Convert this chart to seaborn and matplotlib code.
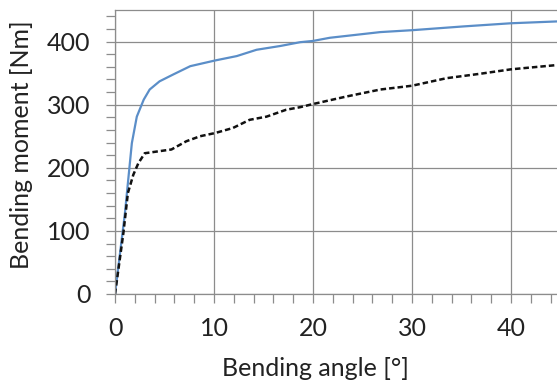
import matplotlib
matplotlib.use("Agg")
import matplotlib.pyplot as plt
import seaborn as sns
import pandas as pd
from matplotlib.ticker import MultipleLocator

# Data
angle_a = [0, 1.0, 1.7, 2.2, 2.9, 3.5, 4.5, 5.9, 7.6, 10.1, 12.3, 14.3, 16.7, 18.7, 20.0, 21.7, 26.8, 30.0, 35.2, 40.0, 44.8]
moment_a = [0, 128, 239, 281, 308, 324, 337, 348, 361, 370, 377, 387, 393, 399, 401, 406, 415, 418, 424, 429, 432]

angle_b = [0, 0.84, 1.3, 1.85, 2.35, 3.0, 3.9, 5.7, 7.2, 8.6, 10.1, 11.9, 13.6, 15.3, 17.3, 18.7, 20.0, 23.4, 26.8, 30.0, 33.5, 36.9, 40.0, 44.8]
moment_b = [0, 96, 160, 189, 207, 223, 225, 229, 242, 250, 255, 263, 276, 281, 292, 296, 301, 313, 324, 330, 342, 349, 356, 363]

x_ticks = [0, 10, 20, 30, 40]
y_ticks = [0, 100, 200, 300, 400]

sns.set_theme(style="white")
plt.rcParams['font.family'] = ['Lato', 'DejaVu Sans']

df_a = pd.DataFrame({"angle": angle_a, "moment": moment_a})
df_b = pd.DataFrame({"angle": angle_b, "moment": moment_b})

fig = plt.figure(figsize=(5.57, 3.85), dpi=100)
ax = fig.add_axes([0.2065, 0.2364, 0.7935, 0.7376])

sns.lineplot(data=df_a, x="angle", y="moment", ax=ax, color="#5b8ec8", lw=1.6, sort=False)
sns.lineplot(data=df_b, x="angle", y="moment", ax=ax, color="#111111", lw=1.8, sort=False,
             linestyle=(0, (2.2, 1.2)))

ax.set_xlim(0, 44.65)
ax.set_ylim(0, 450)
ax.set_xticks(x_ticks)
ax.set_yticks(y_ticks)
ax.xaxis.set_minor_locator(MultipleLocator(2))
ax.yaxis.set_minor_locator(MultipleLocator(20))

ax.grid(True, which="major", color="#8c8c8c", lw=0.9)
ax.set_axisbelow(True)

for side in ["left", "bottom", "top"]:
    ax.spines[side].set_visible(True)
    ax.spines[side].set_color("#8c8c8c")
    ax.spines[side].set_linewidth(0.9)
ax.spines["right"].set_visible(False)

ax.tick_params(axis="both", which="both", direction="out", color="#8c8c8c", width=0.9,
               labelsize=18, labelcolor="#222222")
ax.tick_params(axis="both", which="both", length=6.5)
ax.tick_params(axis="x", which="major", pad=10)
ax.tick_params(axis="y", which="major", pad=11)
ax.tick_params(axis="x", which="both", bottom=True)
ax.tick_params(axis="y", which="both", left=True)

ax.set_xlabel("Bending angle [°]", fontsize=18, color="#222222")
ax.set_ylabel("Bending moment [Nm]", fontsize=18, color="#222222")
ax.xaxis.set_label_coords(0.4525, -0.222)
ax.yaxis.label.set_va("center")
ax.yaxis.set_label_coords(-0.2127, 0.525)

fig.savefig("out.png", dpi=100)
